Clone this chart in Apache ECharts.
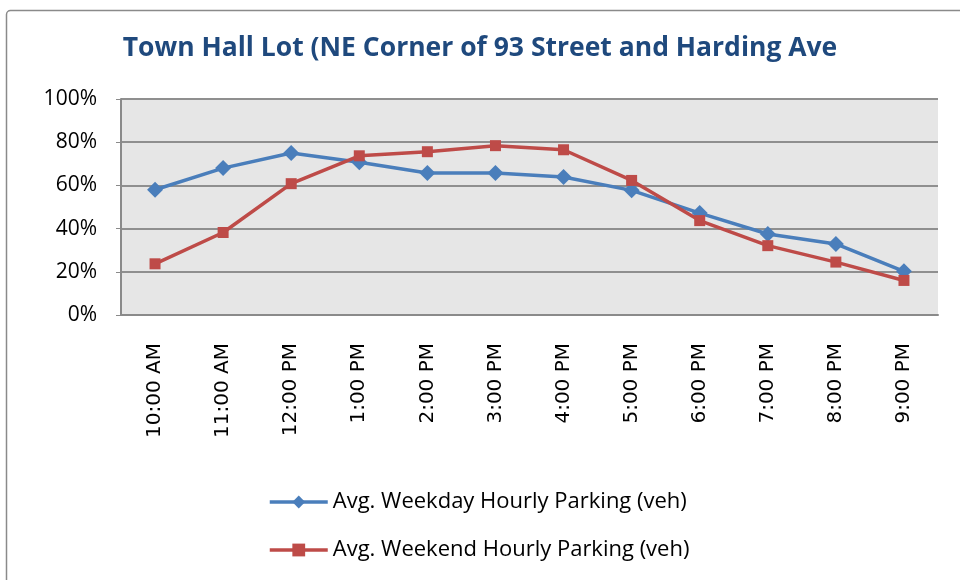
<!DOCTYPE html>
<html><head><meta charset="utf-8">
<script src="https://cdn.jsdelivr.net/npm/echarts@6/dist/echarts.min.js"></script>
<style>html,body{margin:0;padding:0;background:#fff}#c{width:960px;height:580px}</style>
</head><body><div id="c"></div>
<script>
const categories = ['10:00 AM','11:00 AM','12:00 PM','1:00 PM','2:00 PM','3:00 PM','4:00 PM','5:00 PM','6:00 PM','7:00 PM','8:00 PM','9:00 PM'];
const weekday = [58.0, 68.0, 75.0, 70.7, 65.7, 65.7, 63.9, 57.7, 47.2, 37.5, 32.9, 20.2];
const weekend = [23.7, 38.2, 60.8, 73.7, 75.6, 78.4, 76.5, 62.3, 43.7, 32.1, 24.5, 16.0];
const yTicks = [0, 20, 40, 60, 80, 100];
const titleText = 'Town Hall Lot (NE Corner of 93 Street and Harding Ave';
const seriesNames = ['Avg. Weekday Hourly Parking (veh)', 'Avg. Weekend Hourly Parking (veh)'];

const chart = echarts.init(document.getElementById('c'), null, {renderer:'canvas'});
chart.setOption({
  backgroundColor: '#fff',
  animation: false,
  graphic: [{
    type: 'rect', left: 4, top: 8, shape: {width: 1000, height: 620, r: 4},
    style: {fill: 'none', stroke: '#8a8a8a', lineWidth: 1.5}, silent: true, z: -1
  }],
  title: {
    text: titleText, left: 'center', top: 30,
    textStyle: {fontFamily: 'Open Sans', fontWeight: 'bold', fontSize: 26.5, color: '#1F497D'}
  },
  grid: {left: 121, right: 22, top: 99, bottom: 265, show: true, backgroundColor: '#E6E6E6', borderWidth: 0},
  legend: {
    orient: 'vertical', left: 263, top: 486, itemGap: 26, itemWidth: 58, itemHeight: 16,
    lineStyle: {width: 3.5},
    textStyle: {fontFamily: 'Open Sans', fontSize: 22, color: '#000'},
    data: seriesNames
  },
  xAxis: {
    type: 'category', data: categories, boundaryGap: true,
    axisLine: {show: true, lineStyle: {color: '#8a8a8a', width: 2}},
    axisTick: {show: false},
    axisLabel: {rotate: 90, fontFamily: 'DejaVu Sans', fontSize: 20, color: '#000', margin: 28}
  },
  yAxis: {
    type: 'value', min: yTicks[0], max: yTicks[yTicks.length-1], interval: 20,
    axisLine: {show: true, lineStyle: {color: '#8a8a8a', width: 2}},
    axisTick: {show: true, length: 5, lineStyle: {color: '#8a8a8a'}},
    splitLine: {show: true, lineStyle: {color: '#8f8f8f', width: 2}},
    axisLabel: {formatter: v => v + '%', fontFamily: 'Open Sans', fontSize: 21, color: '#000', margin: 24}
  },
  series: [
    {name: seriesNames[0], type: 'line', data: weekday, symbol: 'diamond', symbolSize: 16,
     lineStyle: {color: '#4A7EBB', width: 3.5}, itemStyle: {color: '#4A7EBB'}},
    {name: seriesNames[1], type: 'line', data: weekend, symbol: 'rect', symbolSize: 11,
     lineStyle: {color: '#BE4B48', width: 3.5}, itemStyle: {color: '#BE4B48'}}
  ]
});
</script></body></html>
